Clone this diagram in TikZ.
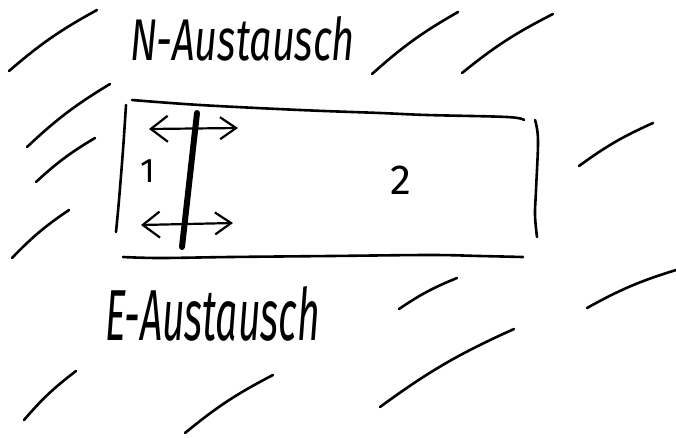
\documentclass[tikz,border=0pt]{standalone}
\usepackage{fontspec}
\setmainfont{Fira Sans}
\usetikzlibrary{arrows.meta}
\tikzset{
  pen/.style={line width=2.6pt, line cap=round, line join=round, black},
  thickpen/.style={line width=6pt, line cap=round, black},
  hatch/.style={pen, bend left=6},
  hand/.style={inner sep=0pt, outer sep=0pt, anchor=south west},
  exch/.style={pen, line width=2.2pt, {Straight Barb[length=17pt,width=26pt,line width=2.2pt]}-{Straight Barb[length=16pt,width=22pt,line width=2.2pt]}},
  digit/.style={inner sep=0pt}
}
\begin{document}
\begin{tikzpicture}[x=1pt,y=-1pt]
\useasboundingbox (0,0) rectangle (676,437);
% hatch strokes (surroundings)
\coordinate (h1a) at (9,71);    \coordinate (h1b) at (97,10);
\coordinate (h2a) at (27,147);  \coordinate (h2b) at (110,84);
\coordinate (h3a) at (36,182);  \coordinate (h3b) at (95,138);
\coordinate (h4a) at (12,258);  \coordinate (h4b) at (69,210);
\coordinate (h5a) at (372,74);  \coordinate (h5b) at (458,12);
\coordinate (h6a) at (462,73);  \coordinate (h6b) at (553,14);
\coordinate (h7a) at (579,166); \coordinate (h7b) at (653,123);
\coordinate (h8a) at (399,309); \coordinate (h8b) at (457,278);
\coordinate (h9a) at (587,308); \coordinate (h9b) at (676,270);
\coordinate (h10a) at (380,407); \coordinate (h10b) at (514,329);
\coordinate (h11a) at (24,420); \coordinate (h11b) at (76,371);
\coordinate (h12a) at (185,433); \coordinate (h12b) at (273,375);
\foreach \i in {1,...,12} { \draw[hatch] (h\i a) to (h\i b); }
% box
\draw[pen] plot[smooth, tension=0.6] coordinates {(132,100) (200,105) (300,110) (380,113) (427,115) (507,117) (524,120)};
\draw[pen] plot[smooth, tension=0.6] coordinates {(123,257) (160,258) (230,257) (330,256) (430,255) (480,256) (523,257)};
\draw[pen] plot[smooth, tension=0.6] coordinates {(126,105) (123,150) (119,200) (116,232)};
\draw[pen] plot[smooth, tension=0.6] coordinates {(535,120) (538,140) (536,190) (535,215) (537,237)};
% wall
\coordinate (wt) at (197,113);
\coordinate (wb) at (182,247);
\draw[thickpen] (wt) -- (wb);
% exchange arrows
\coordinate (a1l) at (149,129); \coordinate (a1r) at (238,128);
\coordinate (a2l) at (141,225); \coordinate (a2r) at (233,223);
\draw[exch] (a1l) -- (a1r);
\draw[exch] (a2l) -- (a2r);
% labels
\node[digit, font=\fontsize{34}{34}\selectfont] (one) at (148,171) {1};
\node[digit, font=\fontsize{42}{42}\selectfont] (two) at (401,180) {2};
\node[hand] (nex) at (130,61) {\resizebox{225pt}{44pt}{\itshape N-Austausch}};
\node[hand] (eex) at (105,341) {\resizebox{215pt}{54pt}{\itshape E-Austausch}};
\end{tikzpicture}
\end{document}
